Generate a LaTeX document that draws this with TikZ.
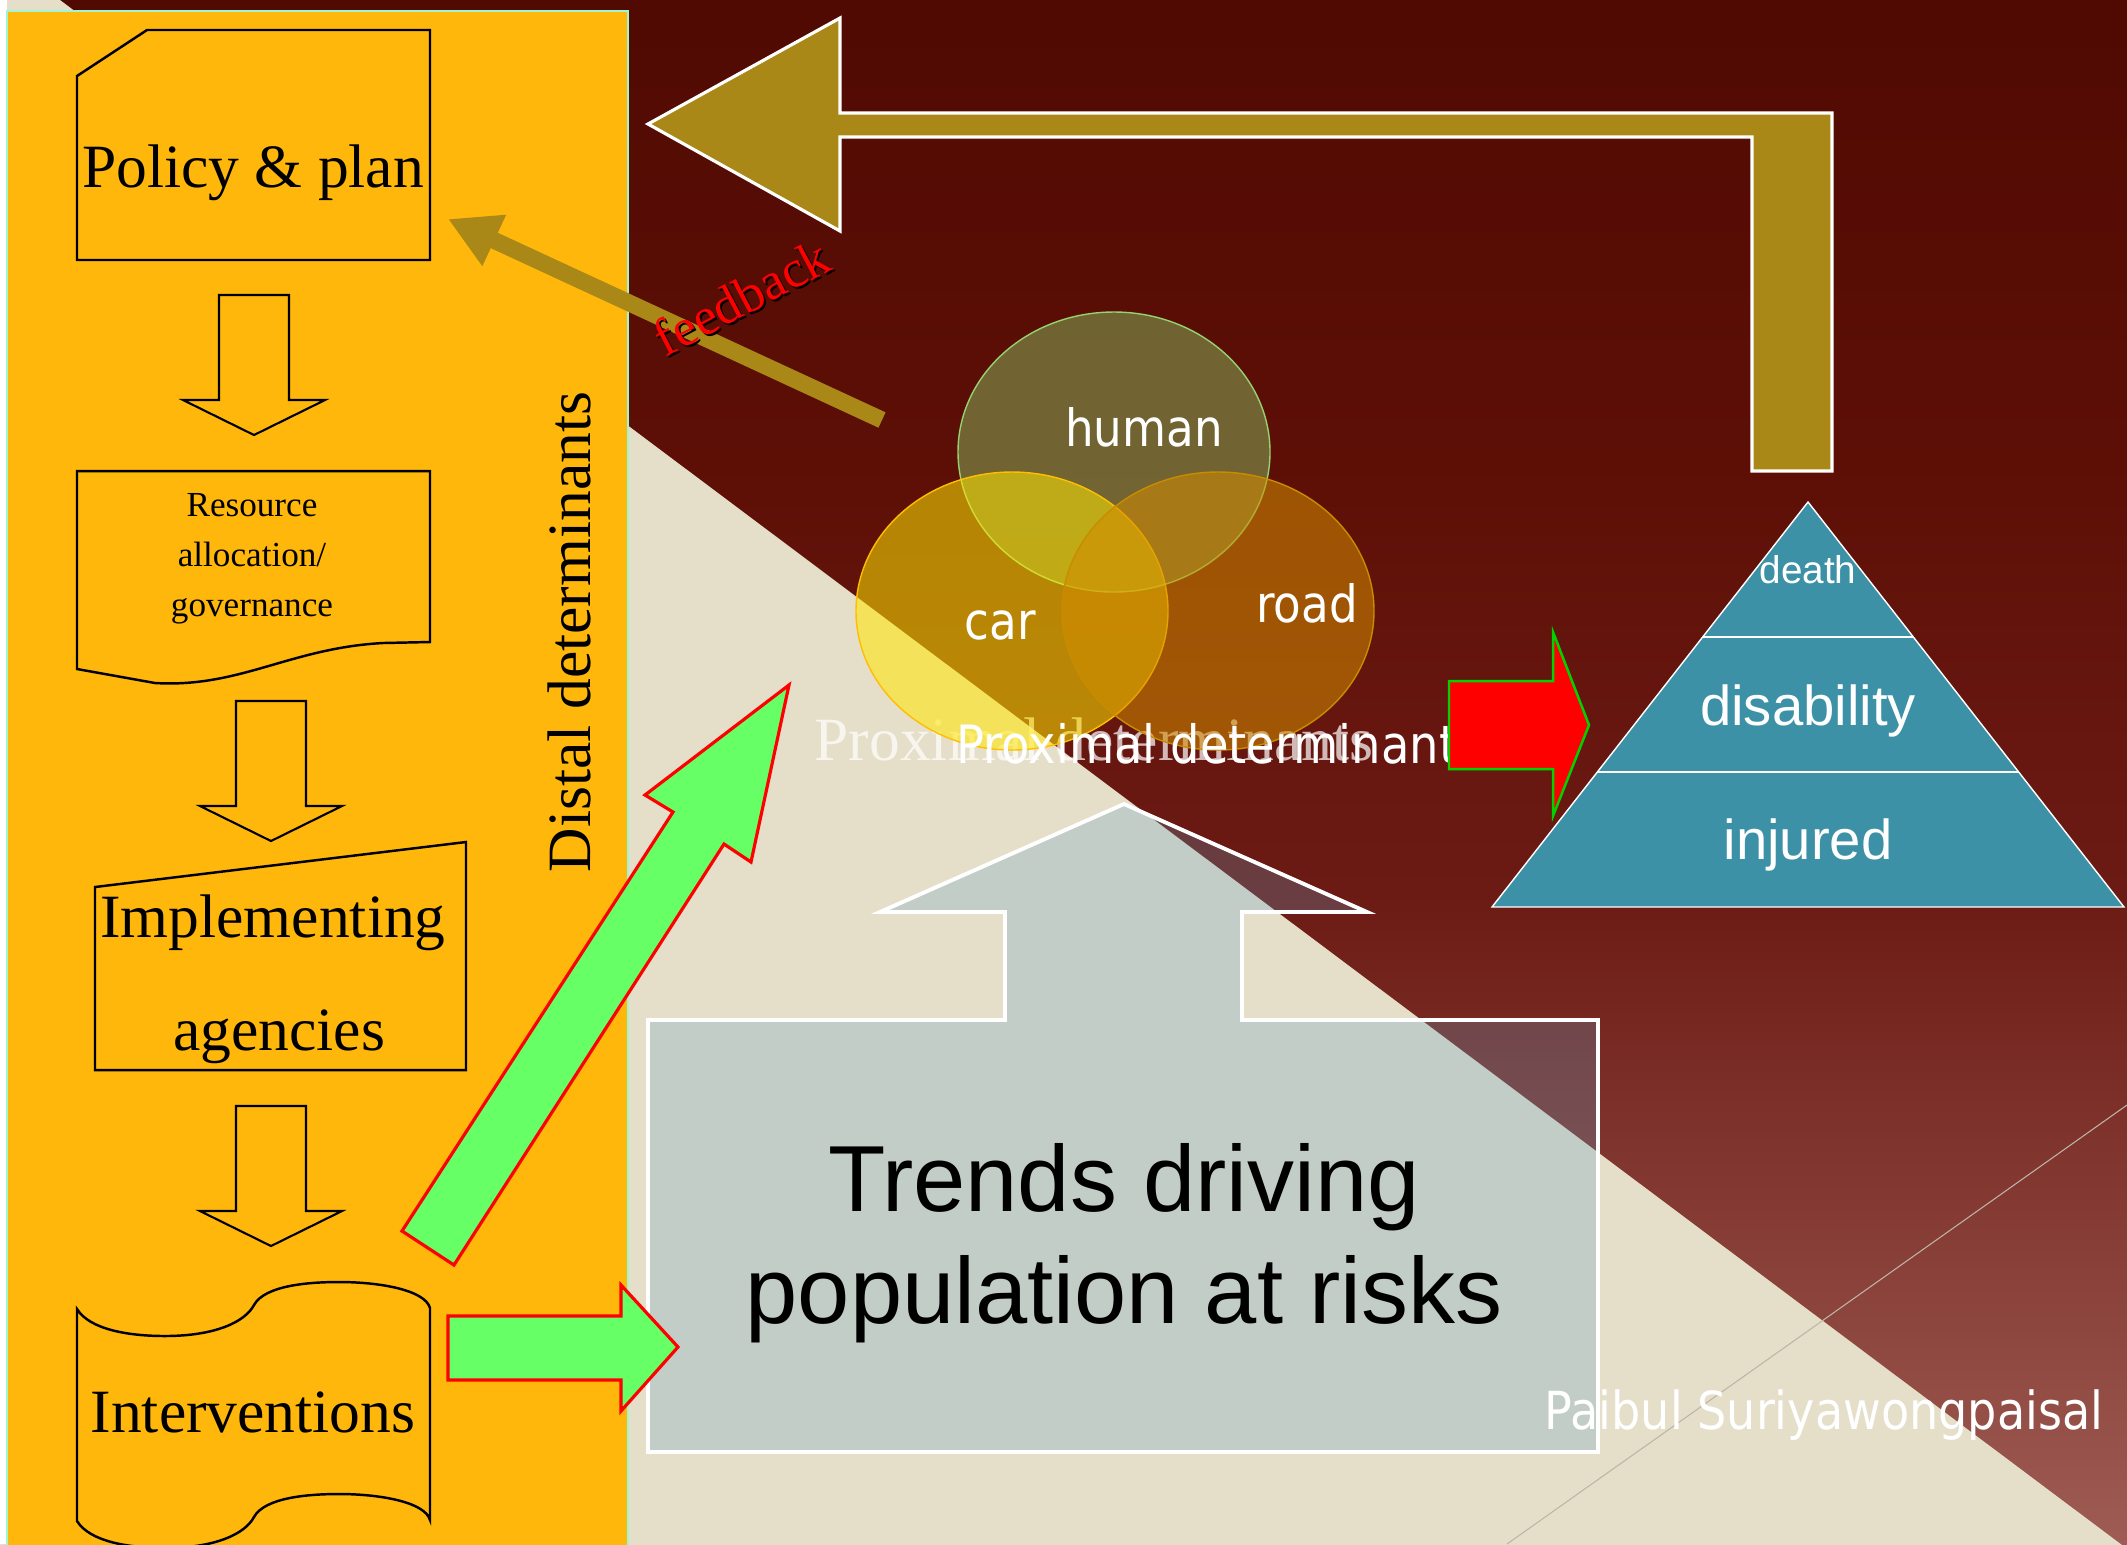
\documentclass[tikz,border=0pt]{standalone}
\usepackage{fontspec}
\setmainfont{Liberation Serif}
\newfontfamily\arialfont{Liberation Sans}
\newfontfamily\narrowfont{DejaVu Sans}[FakeStretch=0.88]
\usepackage{xcolor}
\usetikzlibrary{arrows.meta}
\definecolor{bgTop}{RGB}{80,10,2}
\definecolor{bgUpper}{RGB}{93,15,6}
\definecolor{bgMid}{RGB}{108,27,20}
\definecolor{bgBottom}{RGB}{158,92,84}
\definecolor{beigeBg}{RGB}{229,222,201}
\definecolor{faintLine}{RGB}{190,180,170}
\definecolor{panelOrange}{RGB}{254,183,10}
\definecolor{mintLine}{RGB}{160,245,210}
\definecolor{oliveGold}{RGB}{170,136,24}
\definecolor{arrowGreen}{RGB}{102,255,102}
\definecolor{arrowBorderGreen}{RGB}{0,210,0}
\definecolor{pyramidTeal}{RGB}{60,145,166}
\definecolor{humanFill}{RGB}{136,185,95}
\definecolor{humanLine}{RGB}{150,210,110}
\definecolor{carFill}{RGB}{255,230,0}
\definecolor{carLine}{RGB}{255,190,0}
\definecolor{roadFill}{RGB}{210,140,0}
\definecolor{roadLine}{RGB}{200,140,0}
\definecolor{trendsFill}{RGB}{100,160,195}
\pgfdeclareverticalshading{maroonfade}{100bp}{color(0bp)=(bgBottom); color(25bp)=(bgBottom);
    color(46bp)=(bgMid); color(60bp)=(bgUpper); color(75bp)=(bgTop); color(100bp)=(bgTop)}

\begin{document}
\begin{tikzpicture}[x=0.01cm, y=-0.01cm,
    flowbox/.style={draw=black, fill=panelOrange, line width=0.7pt, line join=miter},
    hollowarrow/.style={draw=black, fill=panelOrange, line width=0.6pt, line join=miter},
    greenarrow/.style={fill=arrowGreen, draw=red, line width=0.9pt, line join=miter},
    olivearrow/.style={fill=oliveGold, draw=white, line width=0.9pt, line join=miter},
    serif/.style={font=\fontsize{17.5}{21}\selectfont},
    venn/.style={line width=0.4pt, fill opacity=0.55},
    narrowlabel/.style={text=white, font=\narrowfont\fontsize{14.6}{17}\selectfont},
    pyrlabel/.style={text=white, font=\arialfont\fontsize{16}{19}\selectfont},
    trendstext/.style={text=black, font=\arialfont\fontsize{26.7}{32}\selectfont}]
    \useasboundingbox (0,0) rectangle (2127,1544);
    \clip (0,0) rectangle (2127,1544);
    \shade[shading=maroonfade] (0,0) rectangle (2127,1544);
    \fill[beigeBg] (0,0) -- (60,0) -- (2142,1560) -- (0,1560) -- cycle;
    \fill[white] (0,0) rectangle (7,1544);
    \draw[faintLine, line width=0.3pt] (1507,1544) -- (2127,1105);

    \draw[fill=panelOrange, draw=mintLine, line width=0.6pt] (7,11) rectangle (628,1560);
    \draw[flowbox] (77,76) -- (147,30) -- (430,30) -- (430,260) -- (77,260) -- cycle;
    \draw[flowbox] (77,471) -- (430,471) -- (430,642) -- (383,643)
        .. controls (290,648) and (240,688) .. (155,683) -- (77,669) -- cycle;
    \draw[flowbox] (95,887) -- (466,842) -- (466,1070) -- (95,1070) -- cycle;
    \draw[flowbox] (77,1309) .. controls (90,1330) and (130,1336) .. (165,1336)
        .. controls (215,1336) and (245,1322) .. (254,1305)
        .. controls (265,1285) and (310,1282) .. (339,1282)
        .. controls (380,1282) and (425,1290) .. (430,1308)
        -- (430,1520) .. controls (425,1502) and (380,1494) .. (339,1494)
        .. controls (310,1494) and (265,1497) .. (254,1517)
        .. controls (245,1534) and (215,1548) .. (165,1548)
        .. controls (130,1548) and (90,1542) .. (77,1521) -- cycle;
    \foreach \cx/\ty in {254/295, 271/701, 271/1106}
        \draw[hollowarrow] (\cx-35,\ty) -- (\cx+35,\ty) -- (\cx+35,\ty+105) -- (\cx+71,\ty+105)
            -- (\cx,\ty+140) -- (\cx-71,\ty+105) -- (\cx-35,\ty+105) -- cycle;

    \node[serif, anchor=base] (policy) at (253,187) {Policy \& plan};
    \node[font=\fontsize{10}{14.2}\selectfont, align=center] (resource) at (252,559) {Resource\\allocation/\\governance};
    \node[serif, anchor=base] (implementing) at (273,937) {Implementing};
    \node[serif, anchor=base] (agencies) at (279,1050) {agencies};
    \node[serif, anchor=base] (interventions) at (253,1432) {Interventions};
    \node[serif, rotate=90, anchor=base] (distal) at (590,632) {Distal determinants};

    \draw[olivearrow] (648,124) -- (840,18) -- (840,113) -- (1832,113) -- (1832,471)
        -- (1752,471) -- (1752,137) -- (840,137) -- (840,231) -- cycle;
    \coordinate (fbtail) at (882,420);
    \coordinate (fbtip) at (448,219);
    \draw[oliveGold, line width=4.8pt, -{Triangle[length=14.5pt, width=15pt]}] (fbtail) -- (fbtip);
    \node[text=black, rotate=27.7, anchor=base, font=\fontsize{15}{18}\selectfont] (fbshadow) at (752,315) {feedback};
    \node[text=red, rotate=27.7, anchor=base, font=\fontsize{15}{18}\selectfont] (feedback) at (750,313) {feedback};

    \node[serif, text=white, text opacity=0.7, anchor=base west, inner sep=0pt] (proxserif) at (814,760) {Proximal determinants};
    \draw[venn, fill=humanFill, draw=humanLine, fill opacity=0.5] (1114,452) ellipse [x radius=156, y radius=140];
    \draw[venn, fill=carFill, draw=carLine] (1012,611) ellipse [x radius=156, y radius=139];
    \draw[venn, fill=roadFill, draw=roadLine] (1218,611) ellipse [x radius=156, y radius=139];
    \node[narrowlabel, anchor=base] (human) at (1144,446) {human};
    \node[narrowlabel, anchor=base] (car) at (1000,639) {car};
    \node[narrowlabel, anchor=base] (road) at (1307,622) {road};
    \node[narrowlabel, font=\narrowfont\fontsize{15}{17}\selectfont, anchor=base west, inner sep=0pt] (proxsans) at (956,763) {Proximal determinant};

    \draw[fill=red, draw=arrowBorderGreen, line width=0.7pt, line join=miter] (1449,681) -- (1553,681) -- (1553,632)
        -- (1589,725) -- (1553,816) -- (1553,769) -- (1449,769) -- cycle;
    \draw[fill=pyramidTeal, draw=white, line width=0.4pt] (1808,502) -- (2124,907) -- (1492,907) -- cycle;
    \draw[white, line width=0.8pt] (1703,637) -- (1913,637);
    \draw[white, line width=0.8pt] (1597,772) -- (2019,772);
    \node[text=white, font=\arialfont\fontsize{11}{13}\selectfont, anchor=base] (death) at (1808,583) {death};
    \node[pyrlabel, anchor=base] (disability) at (1808,725) {disability};
    \node[pyrlabel, anchor=base] (injured) at (1808,859) {injured};

    \draw[fill=trendsFill, fill opacity=0.26, draw=white, line width=1.1pt, line join=miter] (1124,804) -- (1367,912)
        -- (1242,912) -- (1242,1020) -- (1598,1020) -- (1598,1452) -- (648,1452) -- (648,1020)
        -- (1005,1020) -- (1005,912) -- (880,912) -- cycle;
    \node[trendstext, anchor=base] (trends) at (1124,1211) {Trends driving};
    \node[trendstext, anchor=base] (population) at (1124,1323) {population at risks};

    \draw[greenarrow] (402,1231) -- (673,812) -- (645,795) -- (789,685) -- (751,862) -- (724,844) -- (454,1265) -- cycle;
    \draw[greenarrow] (448,1316) -- (621,1316) -- (621,1285) -- (678,1347) -- (621,1411) -- (621,1380) -- (448,1380) -- cycle;

    \node[narrowlabel, font=\narrowfont\fontsize{14.9}{17}\selectfont, anchor=base west, inner sep=0pt] (author) at (1544,1429) {Paibul Suriyawongpaisal};
\end{tikzpicture}
\end{document}
